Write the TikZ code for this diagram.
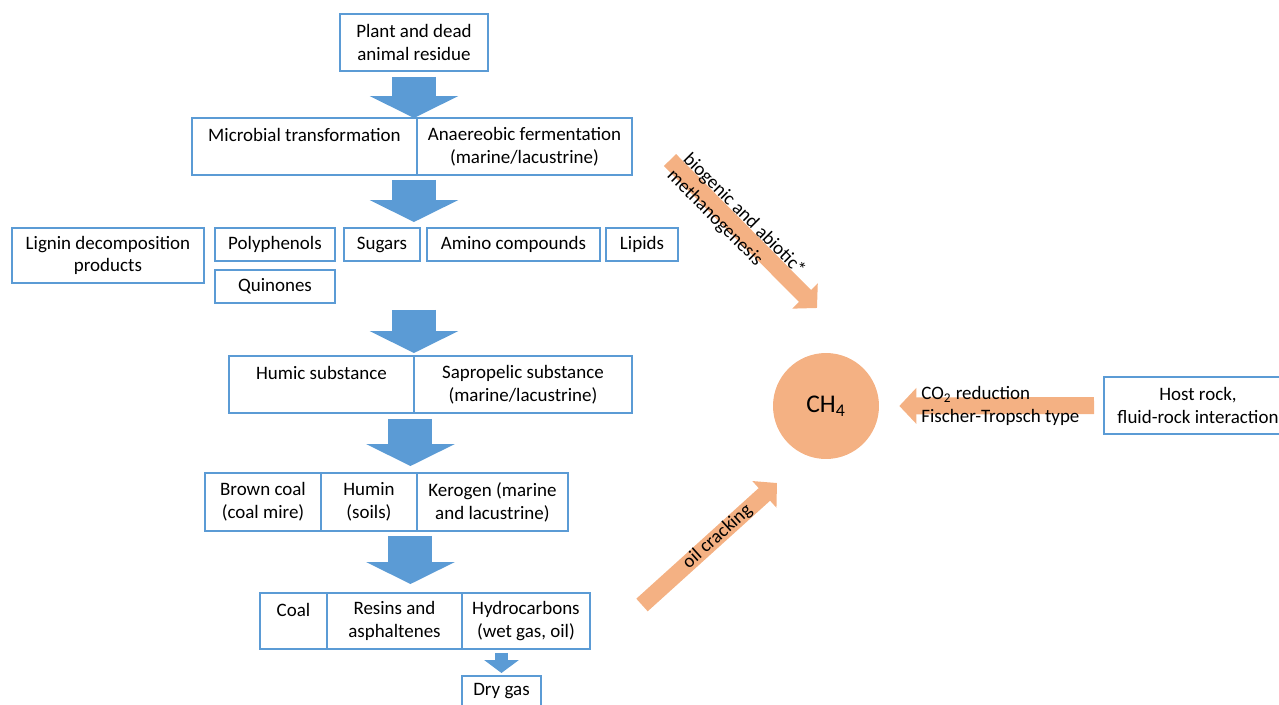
\documentclass[tikz,border=0pt]{standalone}
\usepackage{fontspec}
\setmainfont{Carlito}
\usetikzlibrary{arrows.meta,positioning,calc}
\definecolor{boxblue}{HTML}{5B9BD5}
\definecolor{arrowblue}{HTML}{5B9BD5}
\definecolor{methane}{HTML}{F4B183}
\tikzset{
  cell/.style={draw=boxblue, line width=0.7pt, align=center, inner sep=0pt, outer sep=0pt,
    anchor=north west, minimum height=1.14cm, font=\fontsize{10.8}{13}\selectfont},
  smallcell/.style={cell, minimum height=0.66cm},
  lbl/.style={inner sep=0pt, font=\fontsize{10.8}{13}\selectfont},
  bigarrow/.style={draw=arrowblue, line width=0.88cm, -{Triangle[length=0.44cm,width=1.76cm]}},
  thinarrow/.style={draw=arrowblue, line width=0.26cm, -{Triangle[length=0.26cm,width=0.68cm]}},
  feedarrow/.style={draw=methane, line width=0.34cm, -{Triangle[length=0.34cm,width=0.7cm]}},
}
\begin{document}
\begin{tikzpicture}[x=0.02cm,y=-0.02cm]
  \clip (0,0) rectangle (1279,704);
  % organic matter chain
  \node[cell, minimum width=2.96cm] (residue) at (340,14) {Plant and dead\\animal residue};
  \node[cell, minimum width=4.5cm] (micro) at (192,118) {Microbial transformation\\\mbox{}};
  \node[cell, minimum width=4.3cm, right=0pt of micro] (anaer) {Anaereobic fermentation\\(marine/lacustrine)};
  \node[cell, minimum width=3.84cm, minimum height=1.1cm] (lignin) at (12,228) {Lignin decomposition\\products};
  \node[smallcell, minimum width=2.4cm] (poly) at (215,228) {Polyphenols};
  \node[smallcell, minimum width=2.4cm] (quin) at (215,270) {Quinones};
  \node[smallcell, minimum width=1.52cm] (sugars) at (344,228) {Sugars};
  \node[smallcell, minimum width=3.46cm] (amino) at (427,228) {Amino compounds};
  \node[smallcell, minimum width=1.44cm] (lipids) at (606,228) {Lipids};
  \node[cell, minimum width=3.7cm] (humic) at (229,356) {Humic substance\\\mbox{}};
  \node[cell, minimum width=4.36cm, right=0pt of humic] (sapro) {Sapropelic substance\\(marine/lacustrine)};
  \node[cell, minimum width=2.32cm, minimum height=1.16cm] (brown) at (205,473) {Brown coal\\(coal mire)};
  \node[cell, minimum width=1.92cm, minimum height=1.16cm, right=0pt of brown] (humin) {Humin\\(soils)};
  \node[cell, minimum width=3.02cm, minimum height=1.16cm, right=0pt of humin] (kerogen) {Kerogen (marine\\and lacustrine)};
  \node[cell, minimum width=1.34cm, minimum height=1.12cm] (coal) at (260,593) {Coal\\\mbox{}};
  \node[cell, minimum width=2.7cm, minimum height=1.12cm, right=0pt of coal] (resins) {Resins and\\asphaltenes};
  \node[cell, minimum width=2.56cm, minimum height=1.12cm, right=0pt of resins] (hydro) {Hydrocarbons\\(wet gas, oil)};
  \node[smallcell, minimum width=1.58cm, minimum height=0.62cm] (dry) at (462,676) {Dry gas};
  % block arrows
  \draw[bigarrow, shorten <=0.12cm] (residue.south) -- (residue.south |- micro.north);
  \draw[bigarrow, shorten <=0.1cm, shorten >=0.12cm] ([xshift=-0.06cm]micro.south east) -- ([xshift=-0.06cm]micro.south east |- sugars.north);
  \draw[bigarrow, shorten <=0.14cm, shorten >=0.06cm] (quin.south -| humic.north east) -- (humic.north east);
  \draw[bigarrow, shorten <=0.12cm, shorten >=0.14cm] ([xshift=-0.07cm]humic.south east) -- ([xshift=-0.07cm]humic.south east |- brown.north);
  \draw[bigarrow, shorten <=0.1cm, shorten >=0.18cm] ([xshift=-0.13cm]humin.south east) -- ([xshift=-0.13cm]humin.south east |- coal.north);
  \draw[thinarrow, shorten <=0.08cm, shorten >=0.06cm] (dry.north |- hydro.south) -- (dry.north);
  % methane sources
  \node[circle, fill=methane, minimum size=2.12cm, inner sep=0pt, font=\fontsize{14.5}{17}\selectfont] (ch4) at (826,406) {CH\textsubscript{4}};
  \node[cell, minimum width=3.76cm] (host) at (1104,377) {Host rock,\\fluid-rock interaction};
  \coordinate (bioS) at (670,160);
  \coordinate (bioE) at (817,308);
  \coordinate (oilS) at (642,605);
  \coordinate (oilE) at (777,483);
  \draw[feedarrow] (bioS) -- (bioE);
  \draw[feedarrow] (oilS) -- (oilE) node[lbl, pos=0.56, sloped] (oillbl) {oil cracking};
  \draw[feedarrow, shorten <=0.2cm, shorten >=0.4cm] (host.west) -- (ch4.east);
  \node[lbl, rotate=-45, align=left] (biolbl) at (736,223) {biogenic and abiotic*\\methanogenesis};
  \node[lbl, anchor=west, align=left] (co2lbl) at (921,406) {CO\textsubscript{2} reduction\\Fischer-Tropsch type};
\end{tikzpicture}
\end{document}
